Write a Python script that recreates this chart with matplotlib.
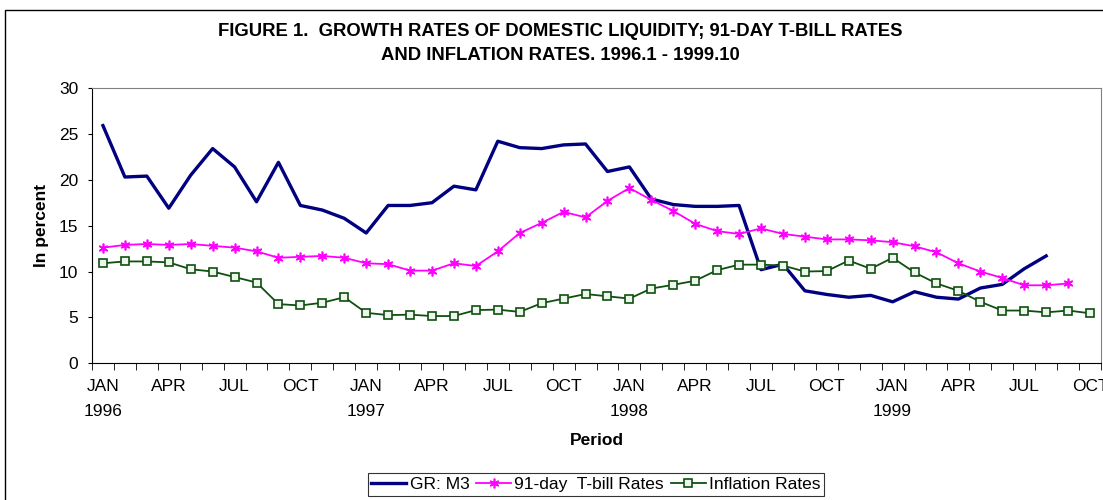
import numpy as np
import matplotlib
matplotlib.use("Agg")
import matplotlib.pyplot as plt
from matplotlib.patches import Rectangle

# monthly data, 1996.1 - 1999.10
months = ["JAN", "APR", "JUL", "OCT"]
years = ["1996", "1997", "1998", "1999"]

gr_m3 = [25.9, 20.3, 20.4, 16.9, 20.5, 23.4, 21.4, 17.6, 21.9, 17.2, 16.7, 15.8,
         14.2, 17.2, 17.2, 17.5, 19.3, 18.9, 24.2, 23.5, 23.4, 23.8, 23.9, 20.9,
         21.4, 17.9, 17.3, 17.1, 17.1, 17.2, 10.2, 10.8, 7.9, 7.5, 7.2, 7.4,
         6.7, 7.8, 7.2, 7.0, 8.2, 8.6, 10.3, 11.7]

tbill = [12.6, 12.9, 13.0, 12.9, 13.0, 12.8, 12.6, 12.2, 11.5, 11.6, 11.7, 11.5,
         10.9, 10.8, 10.1, 10.1, 10.9, 10.6, 12.2, 14.2, 15.3, 16.5, 15.9, 17.7,
         19.1, 17.8, 16.6, 15.2, 14.4, 14.1, 14.7, 14.1, 13.8, 13.5, 13.5, 13.4,
         13.2, 12.75, 12.1, 10.9, 10.0, 9.3, 8.5, 8.5, 8.7]

inflation = [10.9, 11.1, 11.1, 11.0, 10.25, 10.0, 9.4, 8.8, 6.45, 6.3, 6.6, 7.2,
             5.5, 5.25, 5.3, 5.15, 5.15, 5.8, 5.85, 5.6, 6.55, 7.05, 7.55, 7.3,
             7.05, 8.15, 8.55, 9.0, 10.15, 10.75, 10.75, 10.65, 10.0, 10.05, 11.2, 10.3,
             11.5, 9.9, 8.7, 7.9, 6.7, 5.75, 5.75, 5.55, 5.75, 5.45]

n_months = 46

plt.rcParams['font.family'] = ['Liberation Sans', 'DejaVu Sans']

fig = plt.figure(figsize=(11.03, 5.0), dpi=100)
ax = fig.add_axes([92/1103, 1-363.3/500, 1009/1103, (363.3-88)/500])

ax.plot(np.arange(len(gr_m3)), gr_m3, color='#000080', lw=2.4, label='GR: M3')
ax.plot(np.arange(len(tbill)), tbill, color='#ff00ff', lw=1.3,
        marker=(6, 2, 0), markersize=7, markeredgewidth=1.2,
        label='91-day  T-bill Rates')
ax.plot(np.arange(len(inflation)), inflation, color='#0f4f0f', lw=1.3,
        marker='s', markersize=5.5, markerfacecolor='#eef4ee',
        markeredgecolor='#0f4f0f', markeredgewidth=1.2,
        label='Inflation Rates')

ax.set_xlim(-0.5, n_months - 0.5)
ax.set_ylim(0, 30)
ax.set_yticks(range(0, 31, 5))
ax.tick_params(axis='y', direction='out', length=3, labelsize=12.5, pad=7)

# category boundaries get tick marks, labels every quarter
ax.set_xticks(np.arange(-0.5, n_months, 1), minor=True)
ax.tick_params(axis='x', which='minor', direction='out', length=5)
labels = []
for i in range(0, n_months, 3):
    m = months[(i // 3) % 4]
    if m == "JAN":
        labels.append(m + "\n" + years[i // 12])
    else:
        labels.append(m)
ax.set_xticks(np.arange(0, n_months, 3))
ax.set_xticklabels(labels, fontsize=12.5, linespacing=1.78, va='top')
ax.tick_params(axis='x', which='major', length=0, pad=11.5)

for s in ['top', 'right']:
    ax.spines[s].set_color('#808080')
ax.set_ylabel('In percent', fontsize=12.5, fontweight='bold', labelpad=7)
ax.set_xlabel('Period', fontsize=12.5, fontweight='bold', labelpad=10)

fig.text(0.5077, 1-32/500, "FIGURE 1.  GROWTH RATES OF DOMESTIC LIQUIDITY; 91-DAY T-BILL RATES",
         ha='center', va='center', fontsize=13.3, fontweight='bold')
fig.text(0.5077, 1-55/500, "AND INFLATION RATES. 1996.1 - 1999.10",
         ha='center', va='center', fontsize=13.3, fontweight='bold')

leg = ax.legend(loc='center', bbox_to_anchor=(596/1103, 1-484.5/500),
                bbox_transform=fig.transFigure, ncol=3, fontsize=12.5,
                frameon=True, fancybox=False, handlelength=2.0,
                handletextpad=0.2, columnspacing=0.4, borderpad=0.2,
                borderaxespad=0)
leg.get_frame().set_edgecolor('black')
leg.get_frame().set_linewidth(0.8)

fig.patches.append(Rectangle((5/1103, -0.1), 1.0, 1.1 - 10/500, fill=False,
                             edgecolor='black', lw=1.0, transform=fig.transFigure))

fig.savefig("out.png", dpi=100)
